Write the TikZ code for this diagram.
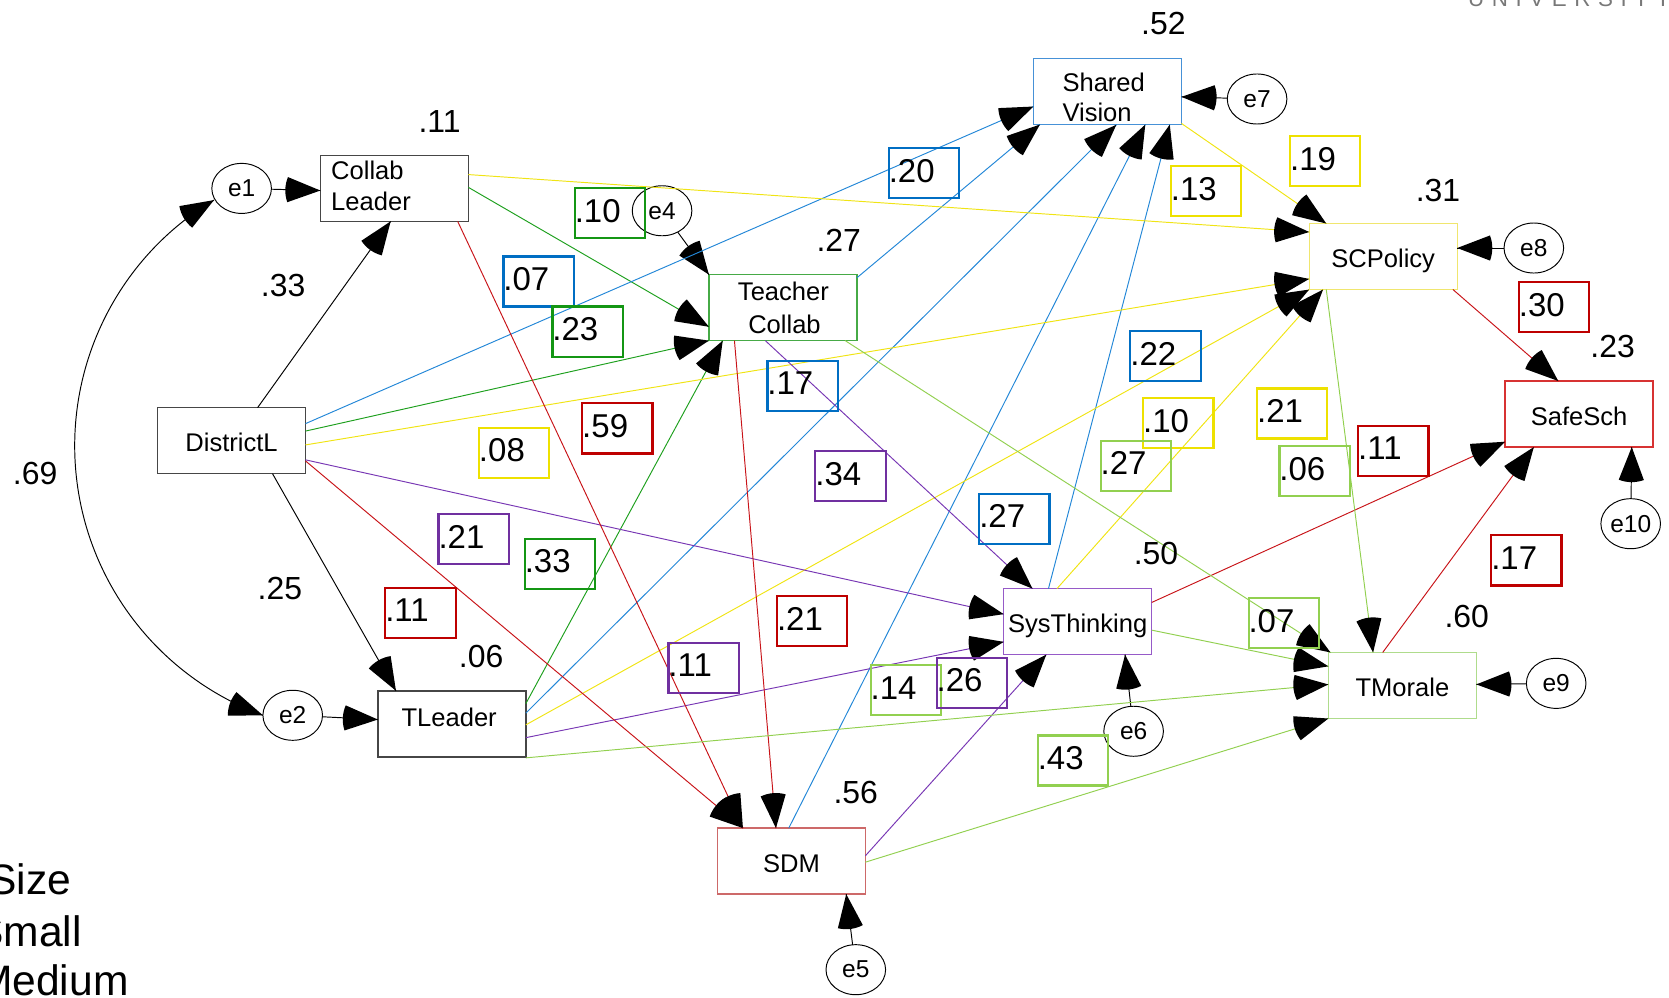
\documentclass[tikz,border=0pt]{standalone}
\usepackage{fontspec}
\setmainfont{Liberation Sans}
\usetikzlibrary{shapes.geometric,calc,decorations.markings}

% path colours
\definecolor{pgreen}{RGB}{30,160,30}
\definecolor{pblue}{RGB}{35,135,215}
\definecolor{pyellow}{RGB}{240,228,20}
\definecolor{pred}{RGB}{200,20,25}
\definecolor{ppurple}{RGB}{120,55,180}
\definecolor{plgreen}{RGB}{146,208,80}
% coefficient box colours
\definecolor{bgreen}{RGB}{20,150,20}
\definecolor{bblue}{RGB}{0,110,195}
\definecolor{byellow}{RGB}{238,225,0}
\definecolor{bred}{RGB}{190,0,0}
\definecolor{bpurple}{RGB}{112,48,160}
\definecolor{blgreen}{RGB}{146,208,80}
% variable box borders
\definecolor{vgray}{RGB}{70,70,70}
\definecolor{vtc}{RGB}{70,170,70}
\definecolor{vsv}{RGB}{70,145,215}
\definecolor{vscp}{RGB}{240,230,110}
\definecolor{vss}{RGB}{215,50,50}
\definecolor{vst}{RGB}{150,90,200}
\definecolor{vtm}{RGB}{175,220,140}
\definecolor{vsdm}{RGB}{205,105,105}
\definecolor{univgray}{RGB}{120,120,120}

\tikzset{
  fanhead/.style={postaction={decorate,decoration={markings,
    mark=at position 1 with {\fill[black] (0pt,0pt) -- (-30.8pt,11.8pt)
      .. controls (-33.7pt,4.2pt) and (-33.7pt,-4.2pt) .. (-30.8pt,-11.8pt) -- cycle;}}}},
  fantail/.style={postaction={decorate,decoration={markings,
    mark=at position 0 with {\fill[black] (0pt,0pt) -- (30.8pt,11.8pt)
      .. controls (33.7pt,4.2pt) and (33.7pt,-4.2pt) .. (30.8pt,-11.8pt) -- cycle;}}}},
  link/.style={line width=0.9pt, fanhead},
  var/.style={draw, line width=1.3pt, minimum width=139pt, minimum height=62pt,
    inner sep=0pt, outer sep=0pt, anchor=north west, text height=21pt, text depth=0pt,
    font=\fontsize{24}{30}\selectfont},
  vtxt/.style={inner sep=0pt, font=\fontsize{24}{30}\selectfont},
  err/.style={draw, ellipse, line width=0.9pt, minimum width=56pt, minimum height=47pt,
    inner sep=0pt, outer sep=0pt, font=\fontsize{23}{23}\selectfont},
  cbox/.style={draw, line width=2pt, minimum width=66pt, minimum height=47pt,
    inner sep=0pt, text width=66pt, align=left, text height=22pt, text depth=5pt,
    anchor=north west, font=\fontsize{31}{31}\selectfont},
  rsq/.style={inner sep=0pt, font=\fontsize{30}{30}\selectfont},
  legend/.style={inner sep=0pt, anchor=base east, font=\fontsize{40}{40}\selectfont}
}

\begin{document}
\begin{tikzpicture}[x=1pt,y=-1pt]
\useasboundingbox (0,0) rectangle (1568,937);

% ---------- observed variables ----------
\node[var, draw=vgray] (CL) at (301,146) {};
\node[vtxt, anchor=west] (CLa) at ($(CL.north west)+(10,14)$) {Collab};
\node[vtxt, anchor=west] (CLb) at ($(CL.north west)+(10,43)$) {Leader};
\node[var, draw=vgray] (DL) at (148,383) {DistrictL};
\node[var, draw=vgray] (TL) at (355,649) {};
\node[vtxt] (TLa) at ($(TL.north west)+(67,25)$) {TLeader};
\node[var, draw=vtc] (TC) at (666,258) {};
\node[vtxt] (TCa) at ($(TC.north west)+(70,16)$) {Teacher};
\node[vtxt] (TCb) at ($(TC.north west)+(71,47)$) {Collab};
\node[var, draw=vsv] (SV) at (971,55) {};
\node[vtxt, anchor=west] (SVa) at ($(SV.north west)+(27,22)$) {Shared};
\node[vtxt, anchor=west] (SVb) at ($(SV.north west)+(27,51)$) {Vision};
\node[var, draw=vscp] (SCP) at (1230,210) {SCPolicy};
\node[var, draw=vss] (SS) at (1414,358) {SafeSch};
\node[var, draw=vst] (ST) at (943,553) {SysThinking};
\node[var, draw=vtm] (TM) at (1248,613) {TMorale};
\node[var, draw=vsdm] (SDM) at (674,778) {SDM};

% ---------- error terms ----------
\node[err] (e1) at (227,177) {e1};
\node[err] (e2) at (275,672) {e2};
\node[err] (e4) at (622,198) {e4};
\node[err] (e5) at (804,911) {e5};
\node[err] (e6) at (1065,687) {e6};
\node[err] (e7) at (1181,93) {e7};
\node[err] (e8) at (1441,233) {e8};
\node[err] (e9) at (1462,642) {e9};
\node[err] (e10) at (1532,492) {e10};

% ---------- black paths ----------
\draw[link] ($(DL.north west)+(94,0)$) -- ($(CL.north west)+(66,62)$);
\draw[link] ($(DL.north west)+(108,62)$) -- ($(TL.north west)+(17,0)$);
\draw[link] (e1) -- ($(CL.north west)+(0,33)$);
\draw[link] (e2) -- ($(TL.north west)+(0,27)$);
\draw[link] (e4) -- (TC.north west);
\draw[link] (e7) -- ($(SV.north west)+(139,36)$);
\draw[link] (e8) -- ($(SCP.north west)+(139,23)$);
\draw[link] (e10) -- ($(SS.north west)+(119,62)$);
\draw[link] (e6) -- ($(ST.north west)+(114,62)$);
\draw[link] (e9) -- ($(TM.north west)+(139,30)$);
\draw[link] (e5) -- ($(SDM.north west)+(121,62)$);
% covariance between e1 and e2
\draw[link, fantail] ($(e1.center)+(-26,11)$)
  .. controls (112,241) and (61.5,341) .. (71.4,444.6)
  .. controls (81.3,548) and (149.6,636) .. ($(e2.center)+(-28,0)$);

% ---------- green paths ----------
\draw[link, pgreen] ($(CL.north west)+(139,30)$) -- ($(TC.north west)+(0,49)$);
\draw[link, pgreen] ($(DL.north west)+(139,22)$) -- ($(TC.north west)+(0,62)$);
\draw[link, pgreen] ($(TL.north west)+(139,12)$) -- ($(TC.north west)+(13,62)$);

% ---------- blue paths ----------
\draw[link, pblue] ($(DL.north west)+(139,15)$) -- ($(SV.north west)+(0,45)$);
\draw[link, pblue] ($(TC.north west)+(139,3)$) -- ($(SV.north west)+(6,62)$);
\draw[link, pblue] ($(TL.north west)+(139,21)$) -- ($(SV.north west)+(78,62)$);
\draw[link, pblue] ($(SDM.north west)+(67,0)$) -- ($(SV.north west)+(105,62)$);
\draw[link, pblue] ($(ST.north west)+(42,0)$) -- ($(SV.north west)+(128,62)$);

% ---------- yellow paths ----------
\draw[link, pyellow] ($(CL.north west)+(139,18)$) -- ($(SCP.north west)+(0,8)$);
\draw[link, pyellow] ($(SV.north west)+(139,61)$) -- ($(SCP.north west)+(16,0)$);
\draw[link, pyellow] ($(DL.north west)+(139,35)$) -- ($(SCP.north west)+(0,52)$);
\draw[link, pyellow] ($(TL.north west)+(139,32)$) -- ($(SCP.north west)+(0,62)$);
\draw[link, pyellow] ($(ST.north west)+(50,0)$) -- ($(SCP.north west)+(13,62)$);

% ---------- purple paths ----------
\draw[link, ppurple] ($(DL.north west)+(139,49)$) -- ($(ST.north west)+(0,24)$);
\draw[link, ppurple] ($(TL.north west)+(139,44)$) -- ($(ST.north west)+(0,50)$);
\draw[link, ppurple] ($(TC.north west)+(53,62)$) -- ($(ST.north west)+(27,0)$);
\draw[link, ppurple] ($(SDM.north west)+(139,26)$) -- ($(ST.north west)+(40,62)$);

% ---------- red paths ----------
\draw[link, pred] ($(CL.north west)+(129,62)$) -- ($(SDM.north west)+(24,0)$);
\draw[link, pred] ($(DL.north west)+(139,50)$) -- ($(SDM.north west)+(24,0)$);
\draw[link, pred] ($(TC.north west)+(24,62)$) -- ($(SDM.north west)+(55,0)$);
\draw[link, pred] ($(SCP.north west)+(135,62)$) -- ($(SS.north west)+(50,0)$);
\draw[link, pred] ($(ST.north west)+(139,13)$) -- ($(SS.north west)+(0,57)$);
\draw[link, pred] ($(TM.north west)+(51,0)$) -- ($(SS.north west)+(27,62)$);

% ---------- light green paths ----------
\draw[link, plgreen] ($(TC.north west)+(128,62)$) -- ($(TM.north west)+(2,0)$);
\draw[link, plgreen] ($(SCP.north west)+(16,62)$) -- ($(TM.north west)+(42,0)$);
\draw[link, plgreen] ($(ST.north west)+(139,39)$) -- ($(TM.north west)+(0,13)$);
\draw[link, plgreen] ($(TL.north west)+(139,63)$) -- ($(TM.north west)+(0,30)$);
\draw[link, plgreen] ($(SDM.north west)+(139,32)$) -- ($(TM.north west)+(0,62)$);

% ---------- squared multiple correlations and plain weights ----------
\node[rsq] (rCL) at (413,114) {.11};
\node[rsq] (rTC) at (788,226) {.27};
\node[rsq] (rSV) at (1093,22) {.52};
\node[rsq] (rSCP) at (1351,179) {.31};
\node[rsq] (rSS) at (1515,326) {.23};
\node[rsq] (rST) at (1086,520) {.50};
\node[rsq] (rTM) at (1378,579) {.60};
\node[rsq] (rSDM) at (804,745) {.56};
\node[rsq] (rTL) at (452,617) {.06};
\node[rsq] (wCL) at (266,268) {.33};
\node[rsq] (wCov) at (33,445) {.69};
\node[rsq] (wTL) at (263,553) {.25};

% ---------- boxed path coefficients ----------
\node[cbox, draw=bgreen] (k1) at (539,176) {.10};
\node[cbox, draw=bblue] (k2) at (472,240) {.07};
\node[cbox, draw=bgreen] (k3) at (518,287) {.23};
\node[cbox, draw=bred] (k4) at (546,378) {.59};
\node[cbox, draw=byellow] (k5) at (449,401) {.08};
\node[cbox, draw=bblue] (k6) at (834,138) {.20};
\node[cbox, draw=byellow] (k7) at (1099,155) {.13};
\node[cbox, draw=byellow] (k8) at (1211,127) {.19};
\node[cbox, draw=bred] (k9) at (1426,264) {.30};
\node[cbox, draw=bblue] (k10) at (1061,310) {.22};
\node[cbox, draw=bblue] (k11) at (720,338) {.17};
\node[cbox, draw=byellow] (k12) at (1073,373) {.10};
\node[cbox, draw=byellow] (k13) at (1180,364) {.21};
\node[cbox, draw=blgreen] (k14) at (1033,413) {.27};
\node[cbox, draw=blgreen] (k15) at (1201,418) {.06};
\node[cbox, draw=bred] (k16) at (1275,399) {.11};
\node[cbox, draw=bpurple] (k17) at (765,423) {.34};
\node[cbox, draw=bblue] (k18) at (919,463) {.27};
\node[cbox, draw=bpurple] (k19) at (411,482) {.21};
\node[cbox, draw=bgreen] (k20) at (492,505) {.33};
\node[cbox, draw=bred] (k21) at (1400,502) {.17};
\node[cbox, draw=bred] (k22) at (361,551) {.11};
\node[cbox, draw=bred] (k23) at (729,559) {.21};
\node[cbox, draw=blgreen] (k24) at (1172,561) {.07};
\node[cbox, draw=bpurple] (k25) at (627,603) {.11};
\node[cbox, draw=blgreen] (k26) at (817,624) {.14};
\node[cbox, draw=bpurple] (k27) at (879,617) {.26};
\node[cbox, draw=blgreen] (k28) at (974,690) {.43};

% ---------- legend and heading ----------
\node[legend] (lg1) at (67,840) {Size};
\node[legend] (lg2) at (77,889) {Small};
\node[legend] (lg3) at (121,935) {Medium};
\node[inner sep=0pt, anchor=base west, text=univgray,
  font=\fontsize{21}{21}\selectfont\addfontfeature{LetterSpace=34}] (univ) at (1379,6) {UNIVERSITY};
\end{tikzpicture}
\end{document}
